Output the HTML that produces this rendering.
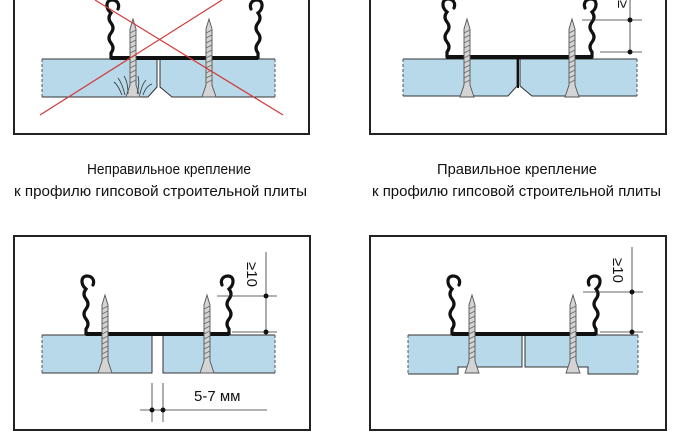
<!DOCTYPE html>
<html><head><meta charset="utf-8"><style>
html,body{margin:0;padding:0;background:#fff;width:680px;height:446px;overflow:hidden}
svg{display:block}
text{font-family:"Liberation Sans",sans-serif;fill:#111}
</style></head><body>
<svg width="680" height="446" viewBox="0 0 680 446" xmlns="http://www.w3.org/2000/svg">
<defs>
<symbol id="half" overflow="visible">
<path d="M7,-49 C9,-54 6,-58 1,-58 C-5,-58 -6,-50 0,-45 Q-4,-40 0,-35 Q4,-30 0,-25 Q-4,-20 0,-15 Q4,-10 0,-5 L0,0" fill="none" stroke="#111" stroke-width="3.2" stroke-linecap="round"/>
</symbol>
<symbol id="screw" overflow="visible">
<path d="M0,-40 L3,-30 L3,26 L7,38 L-7,38 L-3,26 L-3,-30 Z" fill="#d4d4d4" stroke="#555" stroke-width="0.9"/>
<path d="M-3,-26 L3,-29 M-3,-21 L3,-24 M-3,-16 L3,-19 M-3,-11 L3,-14 M-3,-6 L3,-9 M-3,-1 L3,-4 M-3,4 L3,1 M-3,9 L3,6 M-3,14 L3,11 M-3,19 L3,16 M-3,24 L3,21" stroke="#666" stroke-width="0.8"/>
</symbol>
</defs>

<rect x="14" y="-10" width="295" height="144" fill="none" stroke="#222" stroke-width="2"/>
<rect x="370" y="-10" width="296" height="144" fill="none" stroke="#222" stroke-width="2"/>
<rect x="14" y="236" width="296" height="194" fill="none" stroke="#222" stroke-width="2"/>
<rect x="370" y="236" width="296" height="194" fill="none" stroke="#222" stroke-width="2"/>

<!-- TOP LEFT (wrong) -->
<path d="M42,59 L157,59 L157,87 L148,97 L42,97 Z" fill="#b7d9ea"/>
<path d="M160,59 L275,59 L275,97 L172,97 L160,87 Z" fill="#b7d9ea"/>
<path d="M42,59 L275,59 M42,97 L148,97 L157,87 L157,59 M160,59 L160,87 L172,97 L275,97" fill="none" stroke="#333" stroke-width="1"/>
<path d="M42,59 L42,97 M275,59 L275,97" stroke="#555" stroke-dasharray="3,2"/>
<path d="M111,58 L258,58" stroke="#111" stroke-width="4"/>
<use href="#half" x="111" y="58"/>
<g transform="translate(258,58) scale(-1,1)"><use href="#half"/></g>
<use href="#screw" x="133" y="59"/>
<use href="#screw" x="209" y="59"/>
<path d="M122,95 Q118,85 114,82 M125,95 Q122,83 118,78 M128,94 Q128,82 124,76 M140,94 Q142,84 146,80 M143,95 Q146,86 152,84 M137,94 Q140,82 138,76" stroke="#333" stroke-width="0.8" fill="none"/>
<path d="M40,115 L222,0 M95,0 L283,115" stroke="#d23a3a" stroke-width="1.2"/>

<!-- TOP RIGHT -->
<path d="M403,59 L517,59 L517,86 L508,96 L403,96 Z" fill="#b7d9ea"/>
<path d="M520,59 L637,59 L637,96 L532,96 L520,86 Z" fill="#b7d9ea"/>
<path d="M403,59 L637,59 M403,96 L508,96 L517,86 L517,59 M520,59 L520,86 L532,96 L637,96" fill="none" stroke="#333" stroke-width="1"/>
<path d="M403,59 L403,96 M637,59 L637,96" stroke="#555" stroke-dasharray="3,2"/>
<path d="M518,58 L518,88" stroke="#111" stroke-width="2"/>
<path d="M447,57 L592,57" stroke="#111" stroke-width="4"/>
<use href="#half" x="447" y="57"/>
<g transform="translate(592,57) scale(-1,1)"><use href="#half"/></g>
<use href="#screw" x="467" y="59"/>
<use href="#screw" x="572" y="59"/>
<path d="M630,0 L630,52 M582,20 L642,20 M600,52 L642,52" stroke="#333" stroke-width="0.8"/>
<circle cx="630" cy="20" r="2.5" fill="#111"/><circle cx="630" cy="52" r="2.5" fill="#111"/>
<text transform="translate(618,0) rotate(90)" font-size="15">≥</text>

<!-- captions -->
<text x="87" y="174" font-size="15" textLength="164" lengthAdjust="spacingAndGlyphs">Неправильное крепление</text>
<text x="14" y="196" font-size="15" textLength="293" lengthAdjust="spacingAndGlyphs">к профилю гипсовой строительной плиты</text>
<text x="437" y="174" font-size="15" textLength="160" lengthAdjust="spacingAndGlyphs">Правильное крепление</text>
<text x="372" y="196" font-size="15" textLength="289" lengthAdjust="spacingAndGlyphs">к профилю гипсовой строительной плиты</text>

<!-- BOTTOM LEFT -->
<rect x="42" y="335" width="110" height="38" fill="#b7d9ea"/>
<rect x="163" y="335" width="112" height="38" fill="#b7d9ea"/>
<path d="M42,335 L152,335 L152,373 L42,373 M275,335 L163,335 L163,373 L275,373" fill="none" stroke="#333" stroke-width="1"/>
<path d="M42,335 L42,373 M275,335 L275,373" stroke="#555" stroke-dasharray="3,2"/>
<path d="M86,334 L229,334" stroke="#111" stroke-width="4"/>
<use href="#half" x="86" y="334"/>
<g transform="translate(229,334) scale(-1,1)"><use href="#half"/></g>
<use href="#screw" x="105" y="335"/>
<use href="#screw" x="207" y="335"/>
<path d="M266,252 L266,334 M217,296 L277,296 M232,332 L277,332" stroke="#333" stroke-width="0.8"/>
<circle cx="266" cy="296" r="2.5" fill="#111"/><circle cx="266" cy="332" r="2.5" fill="#111"/>
<text transform="translate(247,262) rotate(90)" font-size="15">≥10</text>
<path d="M152,383 L152,422 M163,383 L163,422 M140,410 L267,410" stroke="#333" stroke-width="0.8"/>
<circle cx="152" cy="410" r="2.5" fill="#111"/><circle cx="163" cy="410" r="2.5" fill="#111"/>
<text x="194" y="401" font-size="15">5-7 мм</text>

<!-- BOTTOM RIGHT -->
<path d="M408,335 L522,335 L522,367 L458,367 L458,374 L408,374 Z" fill="#b7d9ea"/>
<path d="M525,335 L638,335 L638,374 L588,374 L588,367 L525,367 Z" fill="#b7d9ea"/>
<path d="M408,335 L638,335 M408,374 L458,374 L458,367 L522,367 L522,335 M525,335 L525,367 L588,367 L588,374 L638,374" fill="none" stroke="#333" stroke-width="1"/>
<path d="M408,335 L408,374 M638,335 L638,374" stroke="#555" stroke-dasharray="3,2"/>
<path d="M452,334 L596,334" stroke="#111" stroke-width="4"/>
<use href="#half" x="452" y="334"/>
<g transform="translate(596,334) scale(-1,1)"><use href="#half"/></g>
<use href="#screw" x="472" y="335"/>
<use href="#screw" x="573" y="335"/>
<path d="M632,247 L632,334 M583,292 L643,292 M600,332 L643,332" stroke="#333" stroke-width="0.8"/>
<circle cx="632" cy="292" r="2.5" fill="#111"/><circle cx="632" cy="332" r="2.5" fill="#111"/>
<text transform="translate(613,258) rotate(90)" font-size="15">≥10</text>
</svg>
</body></html>
